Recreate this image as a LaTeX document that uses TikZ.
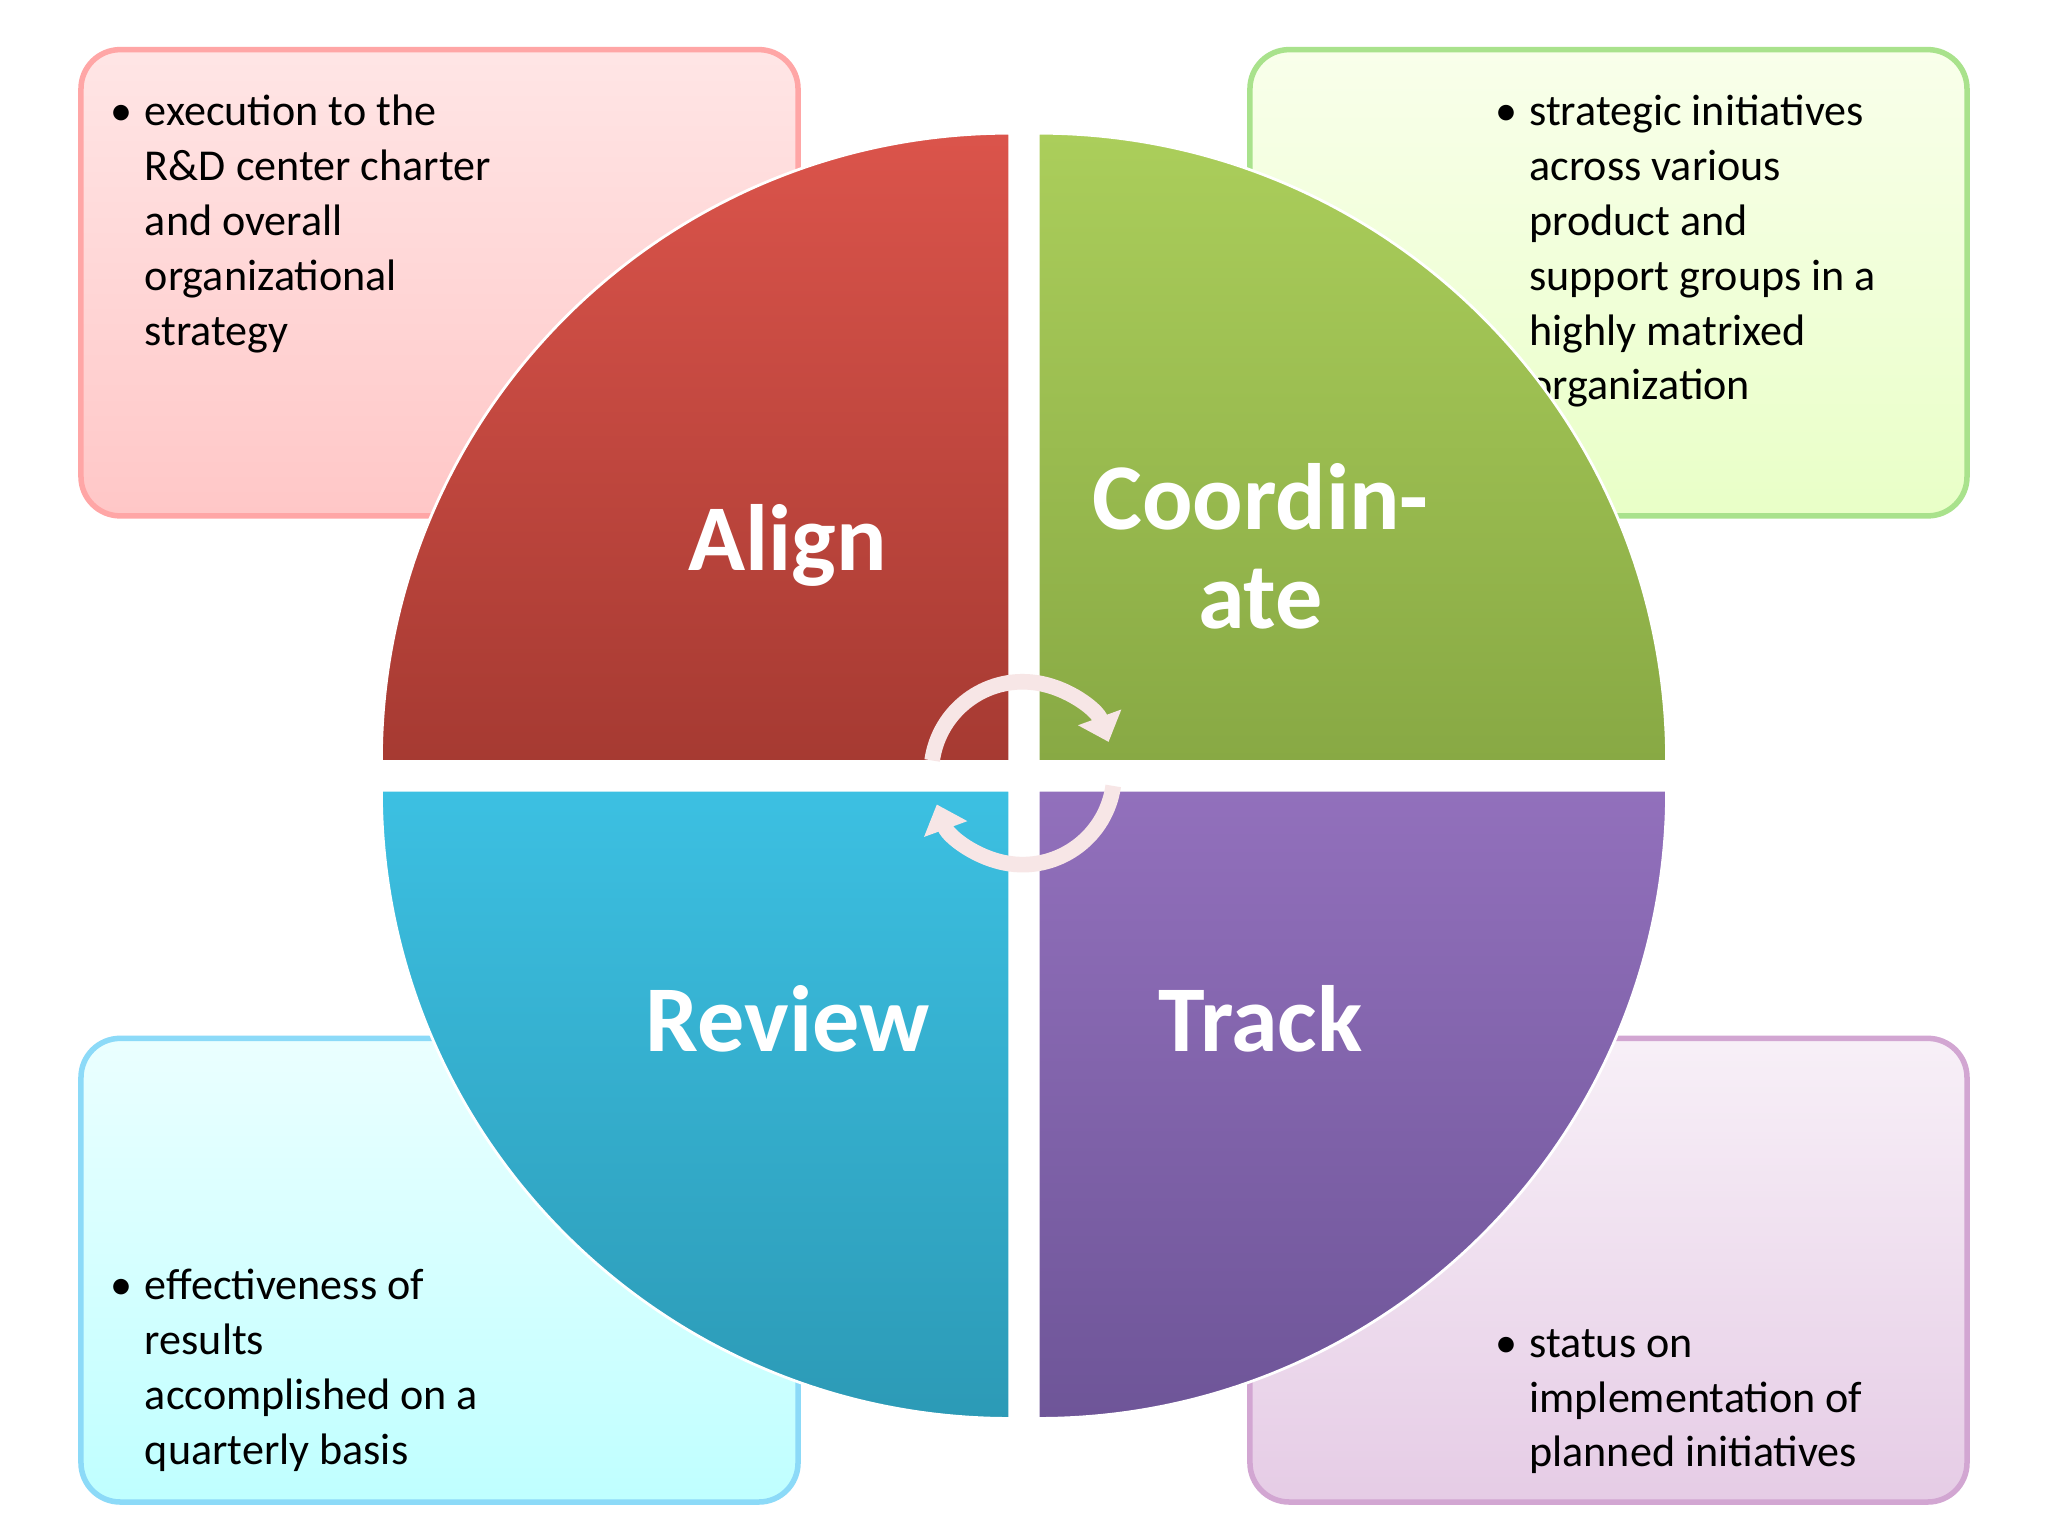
\documentclass[tikz,border=0pt]{standalone}
\usepackage{fontspec}
\setmainfont{Carlito}
\usetikzlibrary{arrows.meta}
\definecolor{redT}{HTML}{DB544B}\definecolor{redB}{HTML}{A63A32}
\definecolor{grnT}{HTML}{ABCE5B}\definecolor{grnB}{HTML}{88A944}
\definecolor{bluT}{HTML}{3CC0E2}\definecolor{bluB}{HTML}{2C9AB6}
\definecolor{purT}{HTML}{9270BC}\definecolor{purB}{HTML}{6E5598}
\begin{document}
\begin{tikzpicture}[x=0.01cm,y=0.01cm,
  box/.style={rounded corners=0.3cm,line width=1.2pt},
  txt/.style={anchor=north west,inner sep=0pt,align=left,font=\fontsize{9.6}{11.95}\selectfont},
  lab/.style={text=white,align=center,font=\fontsize{20.5}{21.5}\selectfont\bfseries},
  quad/.style={draw=white,line width=0.6pt},
  circ/.style={line width=3.4pt,draw=black!10!pink!30!white,-{Triangle[length=0.2cm,width=0.34cm]}}]
\useasboundingbox (0,0) rectangle (1568,1176);
\fill[white] (0,0) rectangle (1568,1176);
% boxes
\draw[box,draw=red!35,top color=red!10,bottom color=red!22] (62,781) rectangle (611,1138);
\draw[box,draw=green!50!olive!45,top color=green!30!yellow!8,bottom color=green!40!yellow!22] (957,781) rectangle (1506,1138);
\draw[box,draw=cyan!45,top color=cyan!8,bottom color=cyan!25] (62,26) rectangle (611,381);
\draw[box,draw=violet!35,top color=violet!6,bottom color=violet!20] (957,26) rectangle (1506,381);
% box texts
\node[txt] (t1) at (84,1110) {\textbullet\hspace{0.28em}\begin{tabular}[t]{@{}l@{}}execution to the\\R\&D center charter\\and overall\\organizational\\strategy\end{tabular}};
\node[txt] (t2) at (1144,1110) {\textbullet\hspace{0.28em}\begin{tabular}[t]{@{}l@{}}strategic initiatives\\across various\\product and\\support groups in a\\highly matrixed\\organization\end{tabular}};
\node[txt] (t3) at (84,211) {\textbullet\hspace{0.28em}\begin{tabular}[t]{@{}l@{}}effectiveness of\\results\\accomplished on a\\quarterly basis\end{tabular}};
\node[txt] (t4) at (1144,167) {\textbullet\hspace{0.28em}\begin{tabular}[t]{@{}l@{}}status on\\implementation of\\planned initiatives\end{tabular}};
% quadrants
\path[quad,top color=redT,bottom color=redB] (773,593) -- ++(-481,0) arc[start angle=180,end angle=90,radius=481] -- cycle;
\path[quad,top color=grnT,bottom color=grnB] (795,593) -- ++(0,481) arc[start angle=90,end angle=0,radius=481] -- cycle;
\path[quad,top color=purT,bottom color=purB] (795,571) -- ++(481,0) arc[start angle=0,end angle=-90,radius=481] -- cycle;
\path[quad,top color=bluT,bottom color=bluB] (773,571) -- ++(0,-481) arc[start angle=270,end angle=180,radius=481] -- cycle;
% labels
\node[lab] (a) at (603,758) {Align};
\node[lab] (c) at (965,758) {Coordin-\\ate};
\node[lab] (r) at (603,396) {Review};
\node[lab] (k) at (965,396) {Track};
% cycle arrows
\coordinate (o) at (783,584);
\draw[circ] ([shift={(172:70)}]o) arc[start angle=172,end angle=20,radius=70];
\draw[circ] ([shift={(-8:70)}]o) arc[start angle=-8,end angle=-160,radius=70];
\end{tikzpicture}
\end{document}
